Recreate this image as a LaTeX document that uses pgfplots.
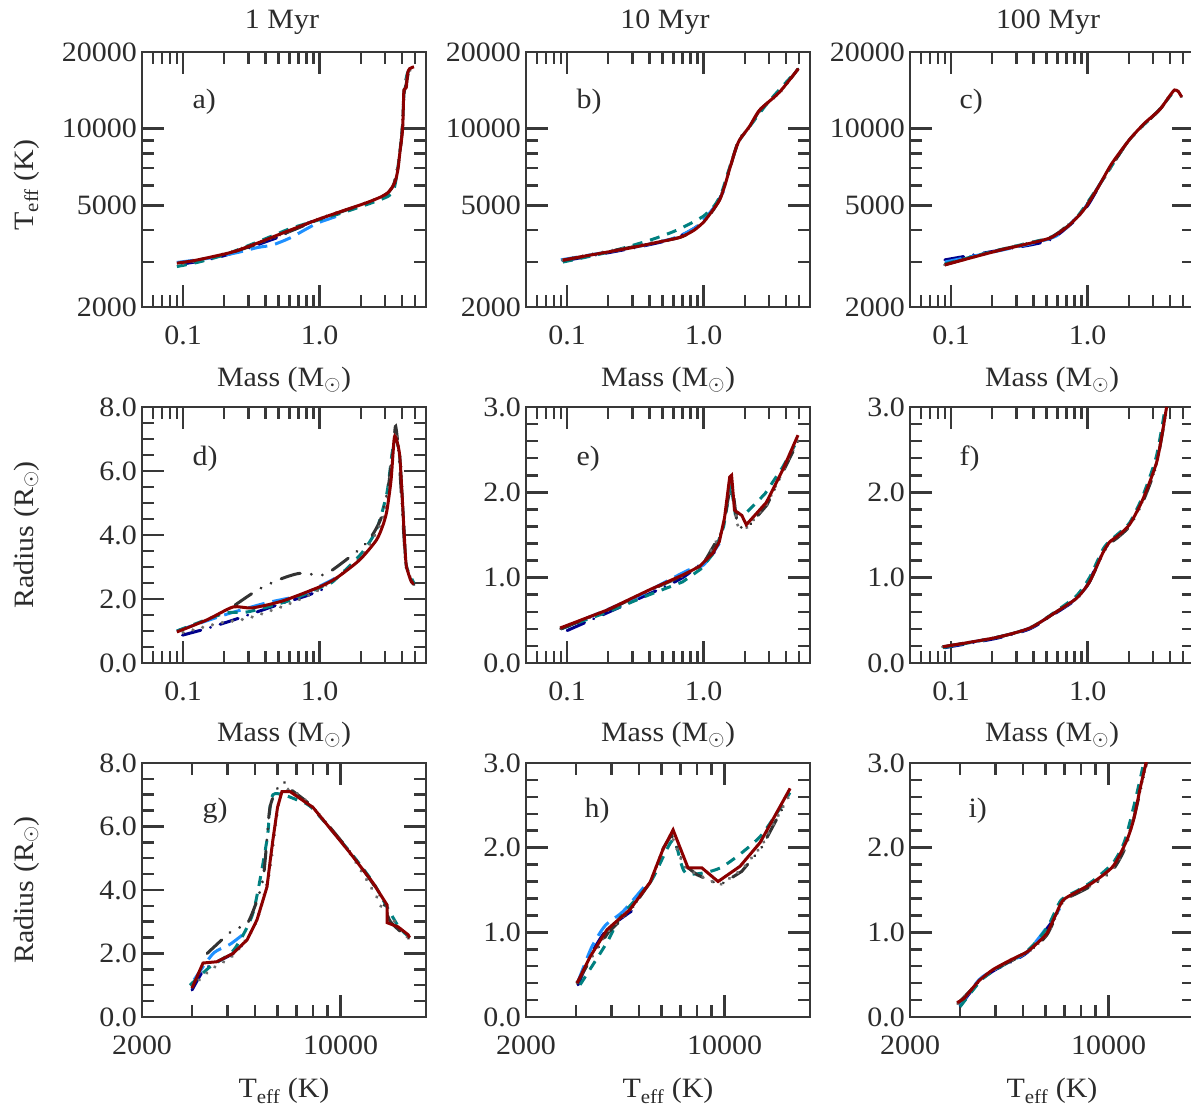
\documentclass[border=0pt]{standalone}
\usepackage{fontspec}
\setmainfont{Liberation Serif}[FakeStretch=1.07]
\usepackage{pgfplots}
\pgfplotsset{compat=1.18}

\definecolor{axcol}{HTML}{383838}
\definecolor{txtcol}{HTML}{2C2C2C}
\definecolor{cred}{HTML}{8B0000}
\definecolor{cnavy}{HTML}{00008B}
\definecolor{cblue}{HTML}{1E90FF}
\definecolor{cteal}{HTML}{008080}
\definecolor{cdgray}{HTML}{333333}
\definecolor{cgray}{HTML}{6E6E6E}

\tikzset{
  sred/.style={draw=cred, line width=3pt, solid},
  snavy/.style={draw=cnavy, line width=3pt, line cap=round, dash pattern=on 19pt off 10pt on 0.1pt off 10pt},
  sblue/.style={draw=cblue, line width=3pt, dash pattern=on 17pt off 8pt},
  steal/.style={draw=cteal, line width=3pt, dash pattern=on 10pt off 8pt},
  sdgray/.style={draw=cdgray, line width=3pt, line cap=round, dash pattern=on 20pt off 11pt on 0.1pt off 11pt on 0.1pt off 11pt},
  sgray/.style={draw=cgray, line width=3.5pt, line cap=round, dash pattern=on 0.1pt off 10pt},
  sm/.style={smooth, tension=0.4},
}

\pgfplotsset{
  panel/.style={scale only axis, width=284pt, anchor=north west,
    axis line style={line width=2.5pt, draw=axcol},
    tick style={line width=2.5pt, draw=axcol},
    major tick length=22pt, minor tick length=12pt, tick align=inside,
    xticklabel style={anchor=base, inner sep=0pt, yshift=-38pt, text=txtcol},
    yticklabel style={anchor=east, inner sep=0pt, xshift=-5pt, text=txtcol}},
  massx/.style={xmin=0.05, xmax=6, xtick={0.1,1}, xticklabels={0.1,1.0},
    minor xtick={0.06,0.07,0.08,0.09,0.2,0.3,0.4,0.5,0.6,0.7,0.8,0.9,2,3,4,5}},
  teffx/.style={xmin=2000, xmax=20000, xtick={2000,10000}, xticklabels={2000,10000},
    minor xtick={3000,4000,5000,6000,7000,8000,9000}},
  teffy/.style={ymin=2000, ymax=20000, ytick={2000,5000,10000,20000},
    yticklabels={2000,5000,10000,20000}, minor ytick={3000,4000,6000,7000,8000,9000}},
  rad8/.style={ymin=0, ymax=8, ytick={0,2,4,6,8}, yticklabels={0.0,2.0,4.0,6.0,8.0}, minor y tick num=3},
  rad3/.style={ymin=0, ymax=3, ytick={0,1,2,3}, yticklabels={0.0,1.0,2.0,3.0}, minor y tick num=4},
}

\begin{document}
\fontsize{28}{33}\selectfont
\begin{tikzpicture}
\useasboundingbox (0pt,0pt) rectangle (1191pt,1107pt);

% ---------- row 1: Teff vs mass ----------
\begin{loglogaxis}[panel, massx, teffy, height=255pt, at={(142pt,1055pt)}]
\addplot[snavy, sm] coordinates {(0.1,2950) (0.15,3060) (0.2,3180) (0.3,3400) (0.4,3600) (0.5,3760) (0.7,4100) (0.9,4350) (1.1,4520)};
\addplot[sblue, sm] coordinates {(0.09,2990) (0.15,3100) (0.25,3270) (0.35,3420) (0.45,3500) (0.6,3720) (0.85,4120) (1.0,4300) (1.2,4450) (1.4,4580)};
\addplot[steal, sm] coordinates {(0.09,2880) (0.13,3000) (0.2,3200) (0.3,3480) (0.45,3800) (0.6,4050) (0.8,4250) (1.0,4400) (1.5,4700) (2.0,4950) (2.6,5200) (3.2,5450) (3.5,5800) (3.7,6800) (3.9,8500) (4.05,10500) (4.15,14000) (4.4,16600) (4.9,17500)};
\addplot[sdgray, sm] coordinates {(0.24,3300) (0.4,3620) (0.6,3950) (1.0,4420) (1.5,4760) (2.2,5120) (3.1,5560) (3.5,6100) (3.8,7600) (4.0,9600) (4.12,13500) (4.3,15000) (4.5,16800) (4.9,17400)};
\addplot[sgray, sm] coordinates {(0.1,2960) (0.2,3230) (0.35,3560) (0.55,3900) (0.8,4250) (1.2,4600) (2.0,5030) (3.0,5500) (3.5,6100) (3.85,8000) (4.05,10500) (4.15,14000) (4.4,16500) (4.9,17400)};
\addplot[sred, sm] coordinates {(0.09,2970) (0.12,3040) (0.16,3140) (0.232,3290) (0.35,3560) (0.536,3900) (0.75,4180) (0.95,4390) (1.4,4720) (2.19,5120) (2.8,5400) (3.14,5600) (3.4,5900) (3.6,6300) (3.75,7000) (3.86,8030) (4.04,9890) (4.1,12500) (4.14,14200) (4.3,14500) (4.4,16500) (4.55,17200) (4.9,17500)};
\end{loglogaxis}

\begin{loglogaxis}[panel, massx, teffy, height=255pt, at={(526pt,1055pt)}]
\addplot[snavy, sm] coordinates {(0.1,3050) (0.3,3400) (0.6,3700) (0.9,4150) (1.2,4900)};
\addplot[sblue, sm] coordinates {(0.09,3060) (0.3,3420) (0.6,3720) (0.9,4150) (1.2,4950) (1.4,5700)};
\addplot[steal, sm] coordinates {(0.093,3000) (0.2,3280) (0.4,3650) (0.6,3950) (0.8,4250) (1.0,4550) (1.2,5000) (1.35,5600) (1.5,6700) (1.7,8200) (1.85,9100) (2.2,10300) (3.0,12800) (4.9,17100)};
\addplot[sdgray, sm] coordinates {(0.093,3040) (0.2,3300) (0.4,3540) (0.7,3780) (1.0,4300) (1.3,5250) (1.55,6950) (1.8,9000) (2.2,10300) (2.6,11900) (3.6,13900) (4.9,17150)};
\addplot[sgray, sm] coordinates {(0.093,3060) (0.2,3310) (0.4,3550) (0.7,3790) (1.0,4320) (1.3,5270) (1.55,6900) (1.8,9000) (2.2,10250) (2.6,11850) (3.6,13850) (4.9,17150)};
\addplot[sred, sm] coordinates {(0.093,3055) (0.15,3200) (0.288,3405) (0.45,3580) (0.67,3750) (0.85,4000) (1.0,4310) (1.15,4750) (1.31,5260) (1.43,6000) (1.54,6890) (1.7,8200) (1.83,9040) (2.16,10200) (2.57,11850) (3.58,13900) (4.93,17200)};
\end{loglogaxis}

\begin{loglogaxis}[panel, massx, teffy, height=255pt, at={(910pt,1055pt)}]
\addplot[snavy, sm] coordinates {(0.09,3060) (0.2,3300) (0.4,3520) (0.55,3700) (0.8,4350) (1.0,5000) (1.2,5900)};
\addplot[sblue, sm] coordinates {(0.09,3000) (0.2,3280) (0.4,3560) (0.6,3820) (0.9,4700) (1.2,5950) (1.4,6800)};
\addplot[steal, sm] coordinates {(0.09,2950) (0.2,3300) (0.4,3600) (0.55,3780) (0.8,4380) (1.2,5950) (2.0,9000) (3.3,11800) (4.3,14100)};
\addplot[sdgray, sm] coordinates {(0.09,2930) (0.2,3290) (0.4,3600) (0.55,3760) (0.87,4600) (1.22,6000) (2.0,9000) (3.35,11850) (4.3,14150) (4.6,14000) (4.87,13320)};
\addplot[sgray, sm] coordinates {(0.09,2930) (0.2,3290) (0.4,3600) (0.55,3760) (0.87,4600) (1.22,6000) (2.0,9000) (3.35,11850) (4.3,14150) (4.87,13320)};
\addplot[sred, sm] coordinates {(0.09,2923) (0.15,3150) (0.228,3340) (0.35,3520) (0.53,3730) (0.7,4100) (0.87,4590) (1.0,5050) (1.22,6020) (1.5,7300) (2.02,9060) (2.6,10500) (3.36,11870) (4.0,13500) (4.32,14190) (4.6,14000) (4.87,13320)};
\end{loglogaxis}

% ---------- row 2: radius vs mass ----------
\begin{semilogxaxis}[panel, massx, rad8, height=256pt, at={(142pt,700pt)}]
\addplot[snavy, sm] coordinates {(0.099,0.87) (0.15,1.08) (0.232,1.34) (0.35,1.6) (0.536,1.87) (0.8,2.1) (1.09,2.33)};
\addplot[sblue, sm] coordinates {(0.09,1.0) (0.2,1.5) (0.4,1.87) (0.7,2.1) (1.0,2.4) (1.4,2.72)};
\addplot[steal, sm] coordinates {(0.09,1.0) (0.2,1.55) (0.3,1.6) (0.6,1.95) (1.0,2.35) (1.24,2.53) (2.0,3.4) (2.6,4.16) (3.1,5.3) (3.4,6.6) (3.6,7.0) (3.86,6.4) (4.14,4.2) (4.3,3.05) (4.9,2.5)};
\addplot[sdgray, sm] coordinates {(0.24,1.81) (0.35,2.28) (0.5,2.6) (0.71,2.8) (1.05,2.75) (1.33,3.0) (2.2,3.75) (2.8,4.5) (3.2,5.6) (3.5,7.0) (3.6,7.4) (3.8,6.5) (4.1,4.2) (4.3,3.0) (4.7,2.55) (4.9,2.45)};
\addplot[sgray, sm] coordinates {(0.1,0.95) (0.186,1.25) (0.3,1.4) (0.6,1.85) (1.0,2.3) (2.0,3.3) (3.0,4.7) (3.5,6.9) (3.6,7.2) (3.9,6.3) (4.15,4.1) (4.3,3.0) (4.9,2.45)};
\addplot[sred, sm] coordinates {(0.09,0.97) (0.15,1.35) (0.232,1.75) (0.32,1.72) (0.536,1.94) (1.0,2.38) (1.33,2.66) (1.96,3.22) (2.6,3.84) (2.9,4.3) (3.1,4.75) (3.33,5.72) (3.5,6.97) (3.6,7.06) (3.86,6.44) (4.14,4.16) (4.3,3.06) (4.7,2.53) (4.9,2.5)};
\end{semilogxaxis}

\begin{semilogxaxis}[panel, massx, rad3, height=256pt, at={(526pt,700pt)}]
\addplot[snavy, sm] coordinates {(0.1,0.38) (0.3,0.72) (0.7,1.0) (1.2,1.3)};
\addplot[sblue, sm] coordinates {(0.09,0.4) (0.3,0.75) (0.6,1.0) (0.8,1.1) (1.0,1.15) (1.3,1.4)};
\addplot[steal] coordinates {(0.09,0.4) (0.2,0.6) (0.4,0.8) (0.7,0.95) (0.95,1.1) (1.2,1.3) (1.4,1.6) (1.58,2.1) (1.7,1.75) (2.05,1.76) (2.8,1.98) (3.8,2.3) (4.9,2.62)};
\addplot[sdgray] coordinates {(0.09,0.4) (0.2,0.62) (0.4,0.85) (0.7,1.02) (1.0,1.17) (1.37,1.55) (1.6,2.15) (1.75,1.65) (1.85,1.59) (2.1,1.59) (2.9,1.85) (4.9,2.6)};
\addplot[sgray] coordinates {(0.09,0.41) (0.2,0.62) (0.4,0.85) (0.7,1.02) (1.0,1.17) (1.37,1.55) (1.6,2.15) (1.75,1.62) (2.05,1.58) (2.9,1.86) (4.9,2.62)};
\addplot[sred] coordinates {(0.089,0.41) (0.196,0.62) (0.404,0.86) (0.70,1.03) (0.93,1.13) (1.17,1.29) (1.3,1.42) (1.42,1.7) (1.55,2.18) (1.6,2.2) (1.68,1.79) (1.9,1.73) (2.05,1.62) (2.87,1.88) (3.78,2.26) (4.9,2.67)};
\end{semilogxaxis}

\begin{semilogxaxis}[panel, massx, rad3, height=256pt, at={(910pt,700pt)}]
\addplot[snavy, sm] coordinates {(0.09,0.18) (0.216,0.29) (0.377,0.40) (0.59,0.59) (0.83,0.75) (1.0,0.92) (1.2,1.2)};
\addplot[sblue, sm] coordinates {(0.09,0.19) (0.216,0.3) (0.377,0.41) (0.59,0.6) (0.83,0.76) (1.03,0.95) (1.29,1.3) (1.4,1.38)};
\addplot[steal, sm] coordinates {(0.087,0.18) (0.216,0.3) (0.377,0.41) (0.59,0.61) (0.83,0.79) (1.03,1.0) (1.29,1.33) (1.45,1.43) (1.63,1.5) (2.02,1.64) (2.52,1.95) (3.18,2.42) (3.7,3.0)};
\addplot[sdgray, sm] coordinates {(0.087,0.19) (0.216,0.3) (0.377,0.41) (0.59,0.6) (0.83,0.76) (1.03,0.95) (1.29,1.28) (1.45,1.4) (1.63,1.46) (2.02,1.6) (2.52,1.88) (3.18,2.32) (3.8,3.0)};
\addplot[sgray, sm] coordinates {(0.087,0.19) (0.216,0.3) (0.377,0.41) (0.59,0.6) (0.83,0.76) (1.03,0.95) (1.29,1.29) (1.45,1.42) (1.63,1.47) (2.02,1.61) (2.52,1.9) (3.18,2.33) (3.8,3.0)};
\addplot[sred, sm] coordinates {(0.087,0.19) (0.216,0.30) (0.377,0.41) (0.59,0.60) (0.83,0.76) (1.03,0.95) (1.29,1.29) (1.45,1.42) (1.63,1.48) (2.02,1.62) (2.52,1.91) (3.18,2.34) (3.52,2.70) (3.78,3.0)};
\end{semilogxaxis}

% ---------- row 3: radius vs Teff ----------
\begin{semilogxaxis}[panel, teffx, rad8, height=254pt, at={(142pt,344pt)}]
\addplot[snavy, sm] coordinates {(3000,0.85) (3300,1.48) (3700,1.75) (4180,2.0) (4720,2.43)};
\addplot[sblue, sm] coordinates {(3050,1.17) (3560,2.0) (4100,2.3) (4610,2.65)};
\addplot[steal, sm] coordinates {(2950,1.0) (3470,1.58) (4200,2.1) (4920,3.28) (5510,5.58) (5780,7.0) (7200,6.8) (8000,6.55) (10800,5.2) (13000,4.25) (14500,3.5) (16000,2.85) (17500,2.5)};
\addplot[sdgray, sm] coordinates {(3390,2.0) (4180,2.74) (4720,2.97) (5330,4.32) (5650,6.62) (6220,7.41) (6600,7.2) (8000,6.6) (10800,5.2) (13000,4.2) (14000,3.7) (15000,3.0) (17500,2.45)};
\addplot[sgray, sm] coordinates {(3000,0.95) (3500,1.5) (4200,1.95) (5000,2.9) (5600,4.5) (6100,6.9) (6700,7.15) (8000,6.6) (10800,5.15) (13420,3.78) (13900,3.47) (15050,3.15) (16900,2.59) (17300,2.49)};
\addplot[sred] coordinates {(3000,0.91) (3280,1.70) (3670,1.74) (4180,2.0) (4690,2.43) (5080,3.06) (5300,3.6) (5510,4.1) (5650,4.9) (5780,5.58) (6000,6.6) (6220,7.1) (6640,7.1) (8000,6.6) (10800,5.17) (13000,4.23) (14580,3.53) (14600,2.97) (15930,2.84) (17300,2.59) (17500,2.5)};
\end{semilogxaxis}

\begin{semilogxaxis}[panel, teffx, rad3, height=254pt, at={(526pt,344pt)}]
\addplot[snavy, sm] coordinates {(3050,0.38) (3400,0.75) (3850,1.03) (4700,1.25)};
\addplot[sblue, sm] coordinates {(3050,0.42) (3400,0.82) (3800,1.08) (4400,1.25) (5400,1.6)};
\addplot[steal, sm] coordinates {(3100,0.38) (3855,0.88) (4300,1.18) (5500,1.6) (6590,2.09) (7300,1.7) (9650,1.76) (13340,2.13) (17000,2.65)};
\addplot[sdgray] coordinates {(3025,0.4) (3400,0.7) (3900,1.0) (4645,1.25) (5500,1.6) (6100,2.0) (6500,2.15) (7200,1.8) (8000,1.68) (9650,1.56) (11500,1.72) (13500,2.0) (16500,2.55)};
\addplot[sgray] coordinates {(3025,0.41) (3400,0.72) (3900,1.02) (4645,1.26) (5500,1.6) (6100,2.0) (6500,2.15) (7200,1.78) (8000,1.68) (9650,1.56) (11500,1.74) (13500,2.02) (16800,2.6)};
\addplot[sred] coordinates {(3025,0.40) (3360,0.71) (3855,1.03) (4645,1.27) (5470,1.59) (6070,1.98) (6590,2.21) (7440,1.76) (8330,1.76) (9490,1.6) (11340,1.78) (13340,2.06) (17020,2.7)};
\end{semilogxaxis}

\begin{semilogxaxis}[panel, teffx, rad3, height=254pt, at={(910pt,344pt)}]
\addplot[snavy, sm] coordinates {(3000,0.13) (3500,0.42) (4000,0.56) (5165,0.76) (6470,1.17)};
\addplot[sblue, sm] coordinates {(3000,0.14) (3500,0.44) (4000,0.57) (5165,0.77) (6500,1.2) (7000,1.4)};
\addplot[steal, sm] coordinates {(3000,0.12) (3300,0.3) (3600,0.45) (4000,0.56) (5165,0.78) (6070,1.05) (6800,1.38) (7750,1.49) (8820,1.61) (10370,1.82) (11400,2.08) (12400,2.55) (13200,2.95)};
\addplot[sdgray, sm] coordinates {(2950,0.16) (3300,0.33) (3530,0.44) (4000,0.57) (5165,0.76) (6070,0.97) (6915,1.36) (7750,1.46) (8820,1.56) (10370,1.74) (11610,2.05) (12900,2.65) (13600,3.0)};
\addplot[sgray, sm] coordinates {(2950,0.16) (3300,0.33) (3530,0.44) (4000,0.57) (5165,0.76) (6070,0.98) (6915,1.37) (7750,1.47) (8820,1.57) (10370,1.76) (11610,2.07) (13600,3.0)};
\addplot[sred, sm] coordinates {(2930,0.17) (3100,0.22) (3300,0.33) (3530,0.44) (3920,0.56) (4500,0.67) (5165,0.77) (5600,0.87) (6070,0.99) (6500,1.2) (6915,1.38) (7750,1.48) (8820,1.59) (10370,1.78) (11610,2.09) (12300,2.35) (12900,2.69) (13660,3.05)};
\end{semilogxaxis}

% ---------- titles and labels ----------
\begin{scope}[every node/.style={text=txtcol}]
\node[anchor=base] at (282pt,1078pt) {1 Myr};
\node[anchor=base] at (665pt,1078pt) {10 Myr};
\node[anchor=base] at (1048pt,1078pt) {100 Myr};
\foreach \cx in {284,668,1052} {
  \node[anchor=base] at (\cx pt,720pt) {Mass (M\textsubscript{$\odot$})};
  \node[anchor=base] at (\cx pt,365pt) {Mass (M\textsubscript{$\odot$})};
  \node[anchor=base] at (\cx pt,9pt) {T\textsubscript{eff} (K)};
}
\node[rotate=90, anchor=base] at (33pt,922pt) {T\textsubscript{eff} (K)};
\node[rotate=90, anchor=base] at (33pt,572pt) {Radius (R\textsubscript{$\odot$})};
\node[rotate=90, anchor=base] at (33pt,217pt) {Radius (R\textsubscript{$\odot$})};
\node[anchor=base west] at (183pt,998pt) {a)};
\node[anchor=base west] at (567pt,998pt) {b)};
\node[anchor=base west] at (950pt,998pt) {c)};
\node[anchor=base west] at (183pt,641pt) {d)};
\node[anchor=base west] at (567pt,641pt) {e)};
\node[anchor=base west] at (950pt,641pt) {f)};
\node[anchor=base west] at (193pt,289pt) {g)};
\node[anchor=base west] at (575pt,289pt) {h)};
\node[anchor=base west] at (959pt,289pt) {i)};
\end{scope}
\end{tikzpicture}
\end{document}
